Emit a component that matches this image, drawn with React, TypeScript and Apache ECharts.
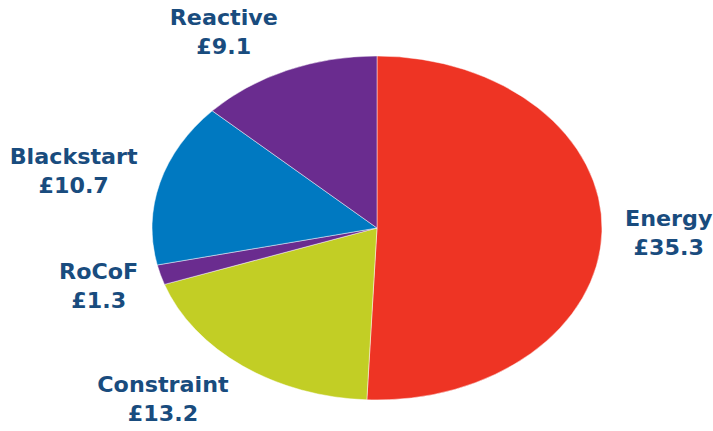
import React, { useEffect, useRef } from "react";
import * as echarts from "echarts";

const categories = ["Energy", "Constraint", "RoCoF", "Blackstart", "Reactive"];
const values = [35.3, 13.2, 1.3, 10.7, 9.1];
const valueLabels = ["£35.3", "£13.2", "£1.3", "£10.7", "£9.1"];
const colors = ["#EE3424", "#C2CE25", "#6A2C8F", "#0079C1", "#6A2C8F"];

const CX = 377;
const CY = 228;
const RX = 225;
const RY = 172;
const LX = 248;
const LY = 214;
const FONT_SIZE = 21;
const TEXT_SCALE_X = 1.06;
const FONT_FAMILY = "'DejaVu Sans', Verdana, sans-serif";
const TEXT_COLOR = "#194C7E";

function measure(text: string): number {
  const c = document.createElement("canvas");
  const ctx = c.getContext("2d");
  if (!ctx) return text.length * FONT_SIZE * 0.65;
  ctx.font = `bold ${FONT_SIZE}px ${FONT_FAMILY}`;
  return ctx.measureText(text).width;
}

export default function App() {
  const ref = useRef<HTMLDivElement>(null);
  useEffect(() => {
    if (!ref.current) return;
    const chart = echarts.init(ref.current, null, { renderer: "svg" });
    const total = values.reduce((a, b) => a + b, 0);
    const starts: number[] = [];
    let acc = 0;
    values.forEach((v) => {
      starts.push(acc);
      acc += v;
    });

    chart.setOption({
      animation: false,
      backgroundColor: "#ffffff",
      series: [
        {
          type: "custom",
          coordinateSystem: "none",
          data: values.map((v, i) => [i, v]),
          renderItem: (params: any, api: any) => {
            const i = params.dataIndex;
            const v = api.value(1);
            const a0 = (starts[i] / total) * Math.PI * 2;
            const a1 = a0 + (v / total) * Math.PI * 2;
            const mid = (a0 + a1) / 2;
            const dx = Math.sin(mid);
            const dy = -Math.cos(mid);
            const px = CX + dx * LX;
            const py = CY + dy * LY;
            const w =
              Math.max(measure(categories[i]), measure(valueLabels[i])) *
              TEXT_SCALE_X;
            const tx = dx < 0 ? px - w / 2 : px + w / 2;
            return {
              type: "group",
              children: [
                {
                  type: "sector",
                  x: CX,
                  y: CY,
                  scaleX: RX / RY,
                  scaleY: 1,
                  shape: {
                    cx: 0,
                    cy: 0,
                    r: RY,
                    r0: 0,
                    startAngle: a0 - Math.PI / 2,
                    endAngle: a1 - Math.PI / 2,
                    clockwise: true,
                  },
                  style: { fill: colors[i], stroke: "#ffffff", lineWidth: 0.4 },
                },
                {
                  type: "text",
                  x: tx,
                  y: py,
                  scaleX: TEXT_SCALE_X,
                  scaleY: 1,
                  style: {
                    text: categories[i] + "\n" + valueLabels[i],
                    fill: TEXT_COLOR,
                    fontSize: FONT_SIZE,
                    fontWeight: "bold",
                    fontFamily: FONT_FAMILY,
                    align: "center",
                    verticalAlign: "middle",
                    lineHeight: 29,
                  },
                },
              ],
            };
          },
        },
      ],
    });
    return () => chart.dispose();
  }, []);
  return (
    <div
      ref={ref}
      style={{ position: "fixed", left: 0, top: 0, width: 713, height: 431 }}
    />
  );
}
